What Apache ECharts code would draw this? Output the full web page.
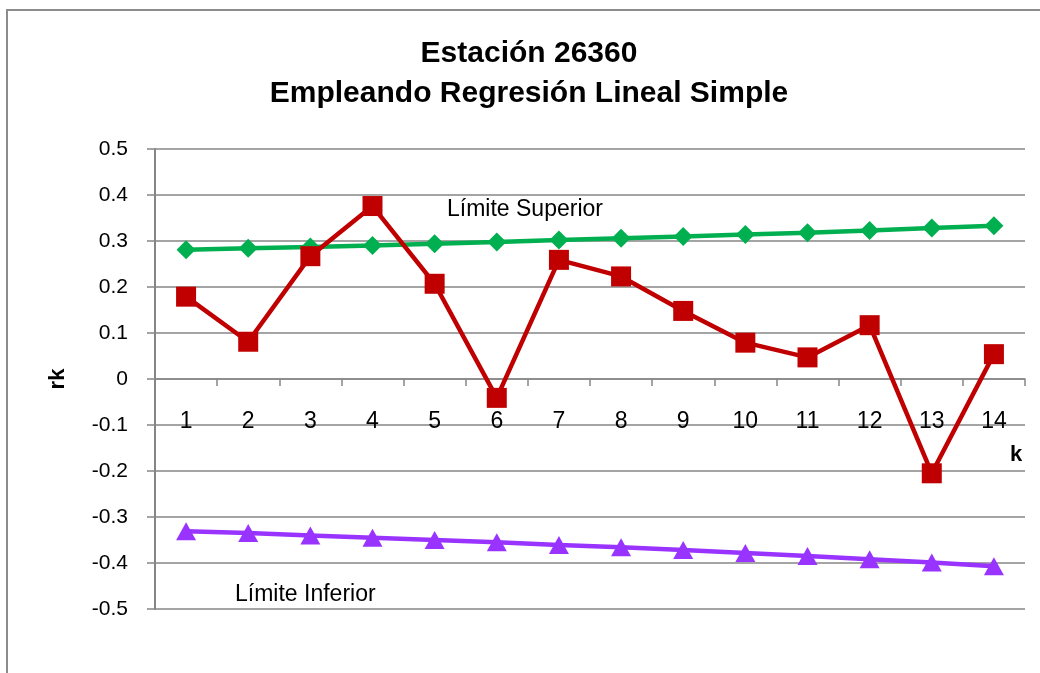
<!DOCTYPE html>
<html>
<head>
<meta charset="utf-8">
<script src="https://cdn.jsdelivr.net/npm/echarts@6/dist/echarts.min.js"></script>
<style>
html,body{margin:0;padding:0;background:#fff;}
#c{width:1040px;height:673px;}
</style>
</head>
<body>
<div id="c"></div>
<script>
const categories = ['1','2','3','4','5','6','7','8','9','10','11','12','13','14'];
const rk = [0.179, 0.081, 0.267, 0.376, 0.207, -0.041, 0.259, 0.223, 0.148, 0.079, 0.047, 0.117, -0.205, 0.054];
const limiteSuperior = [0.281, 0.284, 0.287, 0.290, 0.294, 0.298, 0.302, 0.306, 0.310, 0.314, 0.318, 0.323, 0.328, 0.333];
const limiteInferior = [-0.331, -0.335, -0.340, -0.345, -0.350, -0.355, -0.361, -0.366, -0.372, -0.378, -0.385, -0.392, -0.399, -0.407];
const titleLines = ['Estación 26360', 'Empleando Regresión Lineal Simple'];
const yTicks = {min: -0.5, max: 0.5, interval: 0.1};

const FONT = '"Liberation Sans", Arial, sans-serif';
const GRID = '#868686';
const GRID_TOP = 149, GRID_BOTTOM_PX = 609;
// x axis crosses y at 0: shift the axis up from the grid bottom by the zero position
const zeroOffset = -(GRID_BOTTOM_PX - GRID_TOP) * (0 - yTicks.min) / (yTicks.max - yTicks.min);

const chart = echarts.init(document.getElementById('c'), null, {renderer: 'canvas'});
chart.setOption({
  animation: false,
  backgroundColor: '#ffffff',
  grid: {left: 155, right: 15, top: GRID_TOP, bottom: 673 - GRID_BOTTOM_PX, containLabel: false},
  xAxis: {
    type: 'category',
    data: categories,
    boundaryGap: true,
    offset: zeroOffset,
    axisLine: {onZero: false, lineStyle: {color: GRID, width: 1.5}},
    axisTick: {show: true, length: 7, lineStyle: {color: GRID, width: 1.5}},
    axisLabel: {margin: 31, fontSize: 23, color: '#000', fontFamily: FONT},
    splitLine: {show: false}
  },
  yAxis: {
    type: 'value',
    min: yTicks.min, max: yTicks.max, interval: yTicks.interval,
    name: 'rk',
    nameLocation: 'middle',
    nameGap: 86,
    nameRotate: 90,
    nameTextStyle: {fontSize: 22, fontWeight: 'bold', color: '#000', fontFamily: FONT},
    axisLine: {show: true, lineStyle: {color: GRID, width: 2}},
    axisTick: {show: true, length: 8, lineStyle: {color: GRID, width: 1.5}},
    axisLabel: {margin: 27, fontSize: 21, color: '#000', fontFamily: FONT},
    splitLine: {show: true, lineStyle: {color: GRID, width: 1.5}}
  },
  graphic: [
    {type: 'rect', silent: true, z: -1, shape: {x: 7, y: 10, width: 1200, height: 900},
     style: {fill: 'none', stroke: '#8c8c8c', lineWidth: 2}},
    {type: 'text', x: 529, y: 54, style: {text: titleLines[0], fill: '#000', font: 'bold 30px ' + FONT, align: 'center', verticalAlign: 'middle'}},
    {type: 'text', x: 529, y: 94, style: {text: titleLines[1], fill: '#000', font: 'bold 30px ' + FONT, align: 'center', verticalAlign: 'middle'}},
    {type: 'text', x: 447, y: 210, style: {text: 'Límite Superior', fill: '#000', font: '23px ' + FONT, align: 'left', verticalAlign: 'middle'}},
    {type: 'text', x: 235, y: 595, style: {text: 'Límite Inferior', fill: '#000', font: '23px ' + FONT, align: 'left', verticalAlign: 'middle'}},
    {type: 'text', x: 1016, y: 455, style: {text: 'k', fill: '#000', font: 'bold 22px ' + FONT, align: 'center', verticalAlign: 'middle'}}
  ],
  series: [
    {
      name: 'Límite Superior', type: 'line', data: limiteSuperior,
      symbol: 'diamond', symbolSize: [19, 19],
      lineStyle: {color: '#00B050', width: 4.5},
      itemStyle: {color: '#00B050'}, z: 2
    },
    {
      name: 'Límite Inferior', type: 'line', data: limiteInferior,
      symbol: 'triangle', symbolSize: [20, 18],
      lineStyle: {color: '#9933FF', width: 4.5},
      itemStyle: {color: '#9933FF'}, z: 2
    },
    {
      name: 'rk', type: 'line', data: rk,
      symbol: 'rect', symbolSize: 20,
      lineStyle: {color: '#C00000', width: 4.5},
      itemStyle: {color: '#C00000'}, z: 3
    }
  ]
});
</script>
</body>
</html>
